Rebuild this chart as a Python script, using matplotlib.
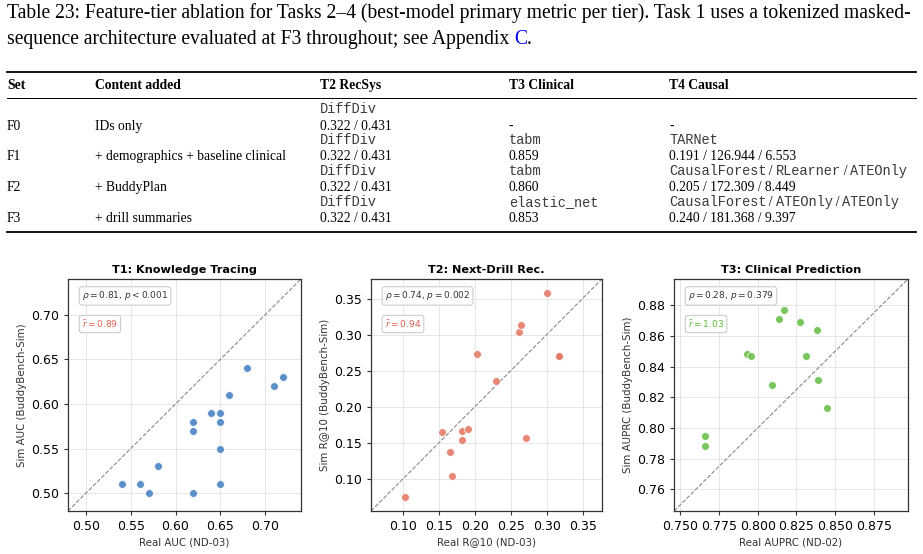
import matplotlib
matplotlib.use("Agg")
import matplotlib.pyplot as plt
from matplotlib.lines import Line2D
from matplotlib.ticker import MultipleLocator

# ---------------- data ----------------
caption_1 = "Table 23: Feature-tier ablation for Tasks 2\u20134 (best-model primary metric per tier). Task 1 uses a tokenized masked-"
caption_2 = "sequence architecture evaluated at F3 throughout; see Appendix "
caption_link = "C"

headers = ["Set", "Content added", "T2 RecSys", "T3 Clinical", "T4 Causal"]
sets = ["F0", "F1", "F2", "F3"]
content = ["IDs only", "+ demographics + baseline clinical", "+ BuddyPlan", "+ drill summaries"]
t2_model = ["DiffDiv", "DiffDiv", "DiffDiv", "DiffDiv"]
t2_val = ["0.322 / 0.431", "0.322 / 0.431", "0.322 / 0.431", "0.322 / 0.431"]
t3_model = ["", "tabm", "tabm", "elastic_net"]
t3_val = ["-", "0.859", "0.860", "0.853"]
t4_model = [[], ["TARNet"], ["CausalForest", "RLearner", "ATEOnly"], ["CausalForest", "ATEOnly", "ATEOnly"]]
t4_val = ["-", "0.191 / 126.944 / 6.553", "0.205 / 172.309 / 8.449", "0.240 / 181.368 / 9.397"]

t1_real = [0.54, 0.56, 0.57, 0.58, 0.62, 0.62, 0.62, 0.64, 0.65, 0.65, 0.65, 0.65, 0.66, 0.68, 0.71, 0.72]
t1_sim = [0.51, 0.51, 0.50, 0.53, 0.50, 0.57, 0.58, 0.59, 0.59, 0.58, 0.55, 0.51, 0.61, 0.64, 0.62, 0.63]

t2_real = [0.103, 0.155, 0.166, 0.169, 0.182, 0.183, 0.191, 0.203, 0.230, 0.262, 0.265, 0.271, 0.301, 0.317, 0.317]
t2_sim = [0.076, 0.165, 0.137, 0.105, 0.167, 0.154, 0.170, 0.273, 0.236, 0.303, 0.313, 0.157, 0.357, 0.270, 0.270]

t3_real = [0.766, 0.766, 0.793, 0.796, 0.809, 0.814, 0.817, 0.827, 0.831, 0.838, 0.839, 0.845]
t3_sim = [0.795, 0.788, 0.848, 0.847, 0.828, 0.871, 0.877, 0.869, 0.847, 0.864, 0.831, 0.813]

panel_titles = ["T1: Knowledge Tracing", "T2: Next-Drill Rec.", "T3: Clinical Prediction"]
x_labels = ["Real AUC (ND-03)", "Real R@10 (ND-03)", "Real AUPRC (ND-02)"]
y_labels = ["Sim AUC (BuddyBench-Sim)", "Sim R@10 (BuddyBench-Sim)", "Sim AUPRC (BuddyBench-Sim)"]
rho_texts = [r"$\rho = 0.81$, $p < 0.001$", r"$\rho = 0.74$, $p = 0.002$", r"$\rho = 0.28$, $p = 0.379$"]
rbar_texts = [r"$\bar{r} = 0.89$", r"$\bar{r} = 0.94$", r"$\bar{r} = 1.03$"]
point_colors = ["#4a84c4", "#e47a68", "#6cbf4c"]
rbar_colors = ["#e0604e", "#e0604e", "#5cbf3c"]
tick_steps = [(0.05, 0.05), (0.05, 0.05), (0.025, 0.02)]

# ---------------- figure ----------------
W, H = 923, 554
fig = plt.figure(figsize=(W / 100, H / 100), dpi=100)
renderer = fig.canvas.get_renderer()

def fx(px):
    return px / W

def fy(py):
    return 1 - py / H

SERIF = "Liberation Serif"
MONO = "Liberation Mono"
FS = 9.8
MONO_COLOR = "#3a3a3a"

# caption
cap1 = fig.text(fx(7), fy(18), caption_1, family=SERIF, fontsize=11, va="baseline", ha="left")
bb = cap1.get_window_extent(renderer)
cap_fs = 11 * 905 / bb.width
cap1.set_fontsize(cap_fs)
cap2 = fig.text(fx(7), fy(44), caption_2, family=SERIF, fontsize=cap_fs, va="baseline", ha="left")
bb2 = cap2.get_window_extent(renderer)
capC = fig.text(bb2.x1 / W, fy(44), caption_link, family=SERIF, fontsize=cap_fs, va="baseline",
                ha="left", color="#0000ee")
bbC = capC.get_window_extent(renderer)
fig.text(bbC.x1 / W, fy(44), ".", family=SERIF, fontsize=cap_fs, va="baseline", ha="left")

# table rules
for yy, lw in [(72, 1.3), (98, 0.7), (232, 1.3)]:
    fig.add_artist(Line2D([fx(7), fx(916)], [fy(yy), fy(yy)], color="black", lw=lw))

col_x = [7, 95, 320, 509, 669]
for cx, h in zip(col_x, headers):
    fig.text(fx(cx), fy(89), h, family=SERIF, weight="bold", fontsize=FS, va="baseline", ha="left")

model_y = [113, 144, 175, 206]
val_y = [130, 160, 191, 222]
for i in range(4):
    fig.text(fx(col_x[0]), fy(val_y[i]), sets[i], family=SERIF, fontsize=FS, va="baseline")
    fig.text(fx(col_x[1]), fy(val_y[i]), content[i], family=SERIF, fontsize=FS, va="baseline")
    fig.text(fx(col_x[2]), fy(model_y[i]), t2_model[i], family=MONO, fontsize=FS, va="baseline", color=MONO_COLOR)
    fig.text(fx(col_x[2]), fy(val_y[i]), t2_val[i], family=SERIF, fontsize=FS, va="baseline")
    if t3_model[i]:
        fig.text(fx(col_x[3]), fy(model_y[i]), t3_model[i], family=MONO, fontsize=FS, va="baseline", color=MONO_COLOR)
    fig.text(fx(col_x[3]), fy(val_y[i]), t3_val[i], family=SERIF, fontsize=FS, va="baseline")
    xcur = col_x[4]
    for k, seg in enumerate(t4_model[i]):
        if k > 0:
            t = fig.text(fx(xcur), fy(model_y[i]), "\u2009/\u2009", family=[SERIF, "DejaVu Serif"], fontsize=FS,
                         va="baseline", color="black")
            xcur = t.get_window_extent(renderer).x1
        t = fig.text(fx(xcur), fy(model_y[i]), seg, family=MONO, fontsize=FS, va="baseline", color=MONO_COLOR)
        xcur = t.get_window_extent(renderer).x1
    fig.text(fx(col_x[4]), fy(val_y[i]), t4_val[i], family=SERIF, fontsize=FS, va="baseline")

# ---------------- scatter panels ----------------
panels = [(t1_real, t1_sim), (t2_real, t2_sim), (t3_real, t3_sim)]
ax_lefts = [68, 371, 674]
ax_widths = [233, 231, 234]
ax_top, ax_bot = 279, 511

for i, (xr, ys) in enumerate(panels):
    ax = fig.add_axes([fx(ax_lefts[i]), fy(ax_bot), ax_widths[i] / W, (ax_bot - ax_top) / H])
    lo = min(min(xr), min(ys)) - 0.02
    hi = max(max(xr), max(ys)) + 0.02
    ax.set_xlim(lo, hi)
    ax.set_ylim(lo, hi)
    ax.grid(True, color="#e6e6e6", lw=0.7, zorder=0)
    ax.set_axisbelow(True)
    ax.plot([lo, hi], [lo, hi], ls="--", color="#8a8a8a", lw=0.8, zorder=1)
    ax.scatter(xr, ys, s=32, color=point_colors[i], edgecolor="white", linewidth=0.6, alpha=0.9, zorder=3)
    ax.xaxis.set_major_locator(MultipleLocator(tick_steps[i][0]))
    ax.yaxis.set_major_locator(MultipleLocator(tick_steps[i][1]))
    ax.tick_params(labelsize=9, length=3, width=0.8, color="#333333")
    for sp in ax.spines.values():
        sp.set_color("#333333")
        sp.set_linewidth(0.9)
    ax.set_title(panel_titles[i], fontsize=8.1, weight="bold", pad=4)
    ax.set_xlabel(x_labels[i], fontsize=7.4, color="#333333", labelpad=3)
    ax.set_ylabel(y_labels[i], fontsize=7.4, color="#333333", labelpad=3)
    box = dict(boxstyle="round,pad=0.3", facecolor="white", edgecolor="#cccccc", lw=0.8)
    ax.text(0.06, 0.927, rho_texts[i], transform=ax.transAxes, fontsize=6.5, color="#333333",
            va="center", ha="left", bbox=box, zorder=5)
    ax.text(0.06, 0.806, rbar_texts[i], transform=ax.transAxes, fontsize=6.5, color=rbar_colors[i],
            va="center", ha="left", bbox=box, zorder=5)

fig.savefig("out.png", dpi=100)
